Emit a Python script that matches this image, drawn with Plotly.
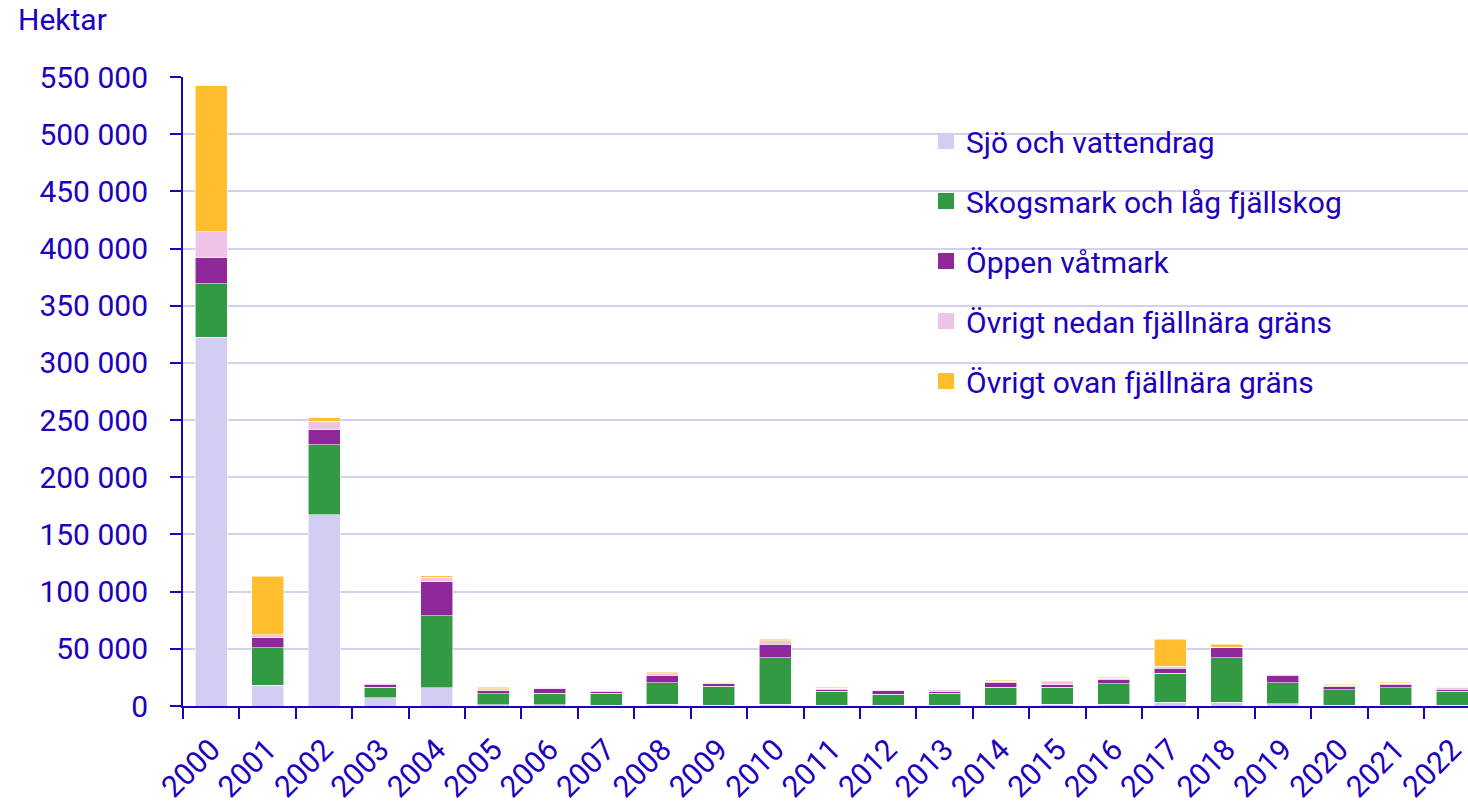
import plotly.graph_objects as go

years = [str(y) for y in range(2000, 2023)]

sjo = [322400, 18000, 167400, 7400, 15800, 1000, 1200, 500, 1500, 600, 1500, 600,
       500, 800, 500, 1500, 1500, 3200, 3200, 2100, 500, 500, 500]
skog = [46900, 32800, 60900, 9000, 63100, 9900, 9900, 10600, 19000, 16700, 40900, 12300,
        9700, 10300, 15900, 14900, 18100, 25500, 39200, 18100, 13600, 15300, 12400]
oppen = [22700, 9000, 13400, 2600, 29600, 2300, 3800, 1800, 5800, 2000, 11700, 1700,
         3200, 1200, 4400, 2000, 3800, 4300, 8500, 6700, 3200, 3200, 1700]
nedan = [22500, 2400, 7300, 1000, 4100, 1700, 1500, 1000, 2100, 1200, 2900, 900,
         900, 2000, 700, 2600, 900, 1800, 500, 1000, 700, 1000, 1200]
ovan = [127900, 51400, 2900, 500, 1200, 1500, 300, 400, 1200, 300, 1500, 900,
        0, 0, 1000, 900, 900, 23700, 2700, 500, 1000, 800, 600]

names = ["Sjö och vattendrag", "Skogsmark och låg fjällskog", "Öppen våtmark",
         "Övrigt nedan fjällnära gräns", "Övrigt ovan fjällnära gräns"]
colors = ["#d2cdf2", "#339a44", "#8f289a", "#f0c3e6", "#ffbe2d"]
series = [sjo, skog, oppen, nedan, ovan]

y_ticks = list(range(0, 550001, 50000))

TXT = "#1e00be"
FONT = "Roboto"
FS = 30

fig = go.Figure()
for name, col, vals in zip(names, colors, series):
    fig.add_trace(go.Bar(
        x=years, y=vals, name=name, showlegend=False,
        marker=dict(color=col, line=dict(color="rgba(255,255,255,0.7)", width=0.8)),
    ))
for i, (name, col) in enumerate(zip(names, colors)):
    fig.add_trace(go.Scatter(
        x=[None], y=[None], mode="markers", name=name, legendgroup=f"g{i}",
        marker=dict(symbol="square", size=16, color=col),
    ))

W, H = 1468, 805
ml, mr, mt, mb = 183, 0, 77, 99
pw = W - ml - mr
ph = H - mt - mb


def px_x(x):
    return (x - ml) / pw


def px_y(y):
    return 1 - (y - mt) / ph


fig.add_shape(type="rect", xref="paper", yref="paper", layer="between",
              x0=px_x(877), x1=px_x(1388), y0=px_y(410), y1=px_y(105),
              fillcolor="white", line=dict(width=0))

fig.add_annotation(text="Hektar", xref="paper", yref="paper",
                   x=px_x(16), y=px_y(20), xanchor="left", yanchor="middle",
                   showarrow=False, font=dict(family=FONT, size=FS, color=TXT))

fig.update_layout(
    width=W, height=H,
    margin=dict(l=ml, r=mr, t=mt, b=mb, autoexpand=False),
    barmode="stack", bargap=0.433,
    plot_bgcolor="white", paper_bgcolor="white",
    separators=", ",
    font=dict(family=FONT, size=FS, color=TXT),
    legend=dict(x=px_x(926), y=px_y(115), xanchor="left", yanchor="top",
                bgcolor="rgba(0,0,0,0)", traceorder="grouped", tracegroupgap=18,
                font=dict(family=FONT, size=FS, color=TXT)),
    xaxis=dict(type="category", range=[-0.5, 22.28], tickangle=-45, automargin=False,
               showline=True, linecolor=TXT, linewidth=2,
               ticks="outside", tickson="boundaries", ticklen=11, tickwidth=2, tickcolor=TXT,
               ticklabelstandoff=12,
               showgrid=False, tickfont=dict(family=FONT, size=FS, color=TXT)),
    yaxis=dict(range=[0, 550000], tickvals=y_ticks, tickformat=",d", automargin=False,
               showline=True, linecolor=TXT, linewidth=2,
               ticks="outside", ticklen=11, tickwidth=2, tickcolor=TXT,
               ticklabelstandoff=16,
               showgrid=True, gridcolor="#d4d1ef", gridwidth=1.6, zeroline=False,
               tickfont=dict(family=FONT, size=FS, color=TXT)),
)

fig.write_html("out.html", config={"displayModeBar": False},
               post_script="document.body.style.margin='0';document.body.style.overflow='hidden';")
